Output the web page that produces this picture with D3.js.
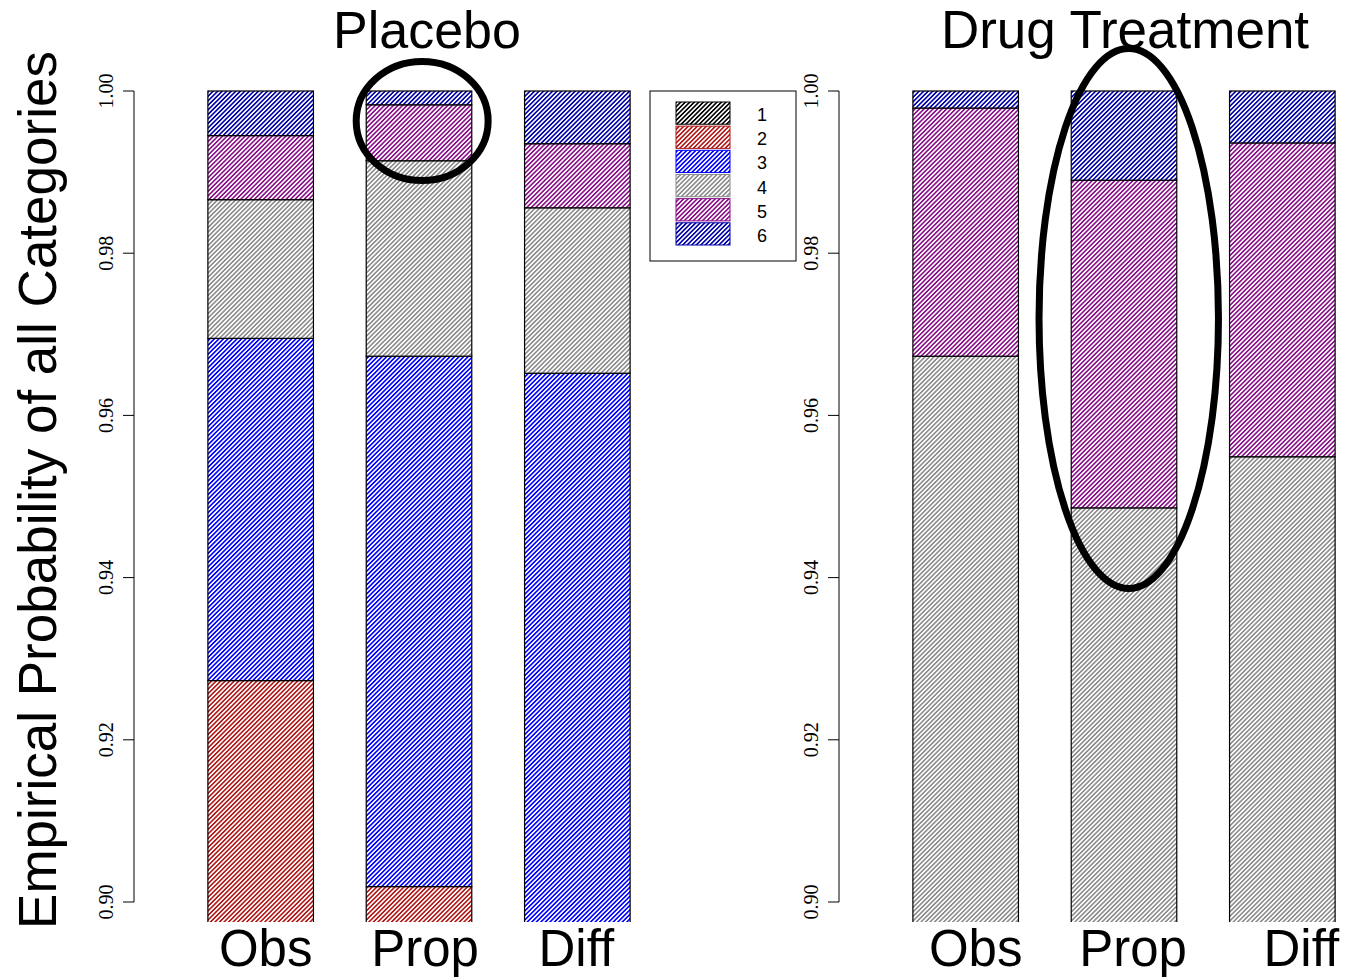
<!DOCTYPE html>
<html>
<head>
<meta charset="utf-8">
<script src="https://cdn.jsdelivr.net/npm/d3@7"></script>
<style>
  body { margin: 0; background: #fff; }
  svg { display: block; }
</style>
</head>
<body>
<div id="viz"></div>
<script>
// categories and bar groups
const categories = ['1', '2', '3', '4', '5', '6']
const groups = ['Obs', 'Prop', 'Diff']
const panelTitles = ['Placebo', 'Drug Treatment']
const yTicks = [0.90, 0.92, 0.94, 0.96, 0.98, 1.00]

// probability of each category (1..6), per bar
const placeboObs  = [0.700, 0.2273, 0.0422, 0.0171, 0.0079, 0.0055]
const placeboProp = [0.800, 0.1019, 0.0654, 0.0241, 0.0069, 0.0017]
const placeboDiff = [0.650, 0.2000, 0.1152, 0.0204, 0.0079, 0.0065]
const drugObs     = [0.400, 0.2500, 0.2000, 0.1173, 0.0306, 0.0021]
const drugProp    = [0.400, 0.2500, 0.2000, 0.0986, 0.0404, 0.0110]
const drugDiff    = [0.400, 0.2500, 0.2000, 0.1049, 0.0387, 0.0064]

// highlighted regions (centre value, half-height in prob units, half-width in bar widths)
const highlights = [
  {panel: 0, bar: 'Prop', y: 0.9963, ry: 0.00734, rx: 0.625, dx: 0.03},
  {panel: 1, bar: 'Prop', y: 0.97195, ry: 0.0333, rx: 0.85, dx: 0.045}
]

const colors = ['#000000', '#b01818', '#0000ff', '#8c8c8c', '#8a108a', '#0000a8']

const width = 1347, height = 977

const svg = d3.select('#viz')
  .append('svg')
  .attr('width', width)
  .attr('height', height)
  .style('font-family', '"Liberation Sans", Arial, sans-serif')

// hatch patterns
const defs = svg.append('defs')
colors.forEach((c, i) => {
  let p = defs.append('pattern')
    .attr('id', 'hatch' + i)
    .attr('patternUnits', 'userSpaceOnUse')
    .attr('width', 3.2)
    .attr('height', 3.2)
    .attr('patternTransform', 'rotate(45)')
  p.append('rect').attr('width', 3.2).attr('height', 3.2).attr('fill', '#fff')
  p.append('rect').attr('width', 1.6).attr('height', 3.2).attr('fill', c)
})

// layout of the two panels
const panels = [
  {left: 134, right: 704, data: [placeboObs, placeboProp, placeboDiff],
   labelNudge: [5, 6, -1], titleNudge: 8},
  {left: 839, right: 1409, data: [drugObs, drugProp, drugDiff],
   labelNudge: [10, 9, 19], titleNudge: 1}
]
const plotBottom = 922

let yScale = d3.scaleLinear()
  .domain([0.9, 1.0])
  .range([902, 91])

defs.append('clipPath').attr('id', 'plotClip')
  .append('rect')
  .attr('x', 0).attr('y', 40)
  .attr('width', width).attr('height', plotBottom - 40)

const stack = d3.stack().keys(d3.range(categories.length))

panels.forEach((panel, pi) => {
  let xScale = d3.scaleBand()
    .domain(groups)
    .range([panel.left, panel.right])
    .paddingInner(1 / 3)
    .paddingOuter(0.7 / 1.5)

  let g = svg.append('g')

  let rows = panel.data.map(v => {
    let r = {}
    v.forEach((p, k) => { r[k] = p })
    return r
  })
  let series = stack(rows)

  let barG = g.append('g').attr('clip-path', 'url(#plotClip)')
  series.forEach((s, k) => {
    barG.selectAll(null)
      .data(s)
      .enter()
      .append('rect')
      .attr('x', (d, i) => xScale(groups[i]))
      .attr('width', xScale.bandwidth())
      .attr('y', d => yScale(d[1]))
      .attr('height', d => yScale(d[0]) - yScale(d[1]))
      .attr('fill', 'url(#hatch' + k + ')')
      .attr('stroke', '#000')
      .attr('stroke-width', 1.2)
  })

  // y axis
  let axis = g.append('g')
    .attr('transform', `translate(${panel.left},0)`)
  axis.append('line')
    .attr('y1', yScale(0.9)).attr('y2', yScale(1.0))
    .attr('stroke', '#000')
  axis.selectAll('.tick')
    .data(yTicks)
    .enter()
    .append('line')
    .attr('x1', -11).attr('x2', 0)
    .attr('y1', d => yScale(d)).attr('y2', d => yScale(d))
    .attr('stroke', '#000')
  axis.selectAll('.tlabel')
    .data(yTicks)
    .enter()
    .append('text')
    .attr('transform', d => `translate(-21,${yScale(d)}) rotate(-90)`)
    .attr('text-anchor', 'middle')
    .style('font-family', '"Liberation Serif", "DejaVu Serif", serif')
    .style('font-size', '20px')
    .text(d => d.toFixed(2))

  // bar labels
  g.selectAll('.glabel')
    .data(groups)
    .enter()
    .append('text')
    .attr('x', (d, i) => xScale(d) + xScale.bandwidth() / 2 + panel.labelNudge[i])
    .attr('y', 966)
    .attr('text-anchor', 'middle')
    .style('font-size', '51px')
    .text(d => d)

  // title
  g.append('text')
    .attr('x', (panel.left + panel.right) / 2 + panel.titleNudge)
    .attr('y', 48)
    .attr('text-anchor', 'middle')
    .style('font-size', pi === 0 ? '52px' : '53px')
    .text(panelTitles[pi])

  // highlight ellipses
  highlights.filter(h => h.panel === pi).forEach(h => {
    let bw = xScale.bandwidth()
    g.append('ellipse')
      .attr('cx', xScale(h.bar) + bw / 2 + h.dx * bw)
      .attr('cy', yScale(h.y))
      .attr('rx', h.rx * bw)
      .attr('ry', yScale(h.y - h.ry) - yScale(h.y))
      .attr('fill', 'none')
      .attr('stroke', '#000')
      .attr('stroke-width', 7)
  })
})

// legend
let legend = svg.append('g').attr('transform', 'translate(650,91)')
legend.append('rect')
  .attr('width', 146).attr('height', 170)
  .attr('fill', '#fff').attr('stroke', '#000')
let legendRow = d3.scaleBand()
  .domain(categories)
  .range([11, 154])
  .paddingInner(0.08)
legend.selectAll('.sw')
  .data(categories)
  .enter()
  .append('rect')
  .attr('x', 26)
  .attr('y', d => legendRow(d))
  .attr('width', 54)
  .attr('height', legendRow.bandwidth())
  .attr('fill', (d, i) => 'url(#hatch' + i + ')')
  .attr('stroke', (d, i) => colors[i])
legend.selectAll('.lt')
  .data(categories)
  .enter()
  .append('text')
  .attr('x', 112)
  .attr('y', d => legendRow(d) + legendRow.bandwidth() / 2 + 8)
  .attr('text-anchor', 'middle')
  .style('font-size', '18px')
  .text(d => d)

// y title
svg.append('text')
  .attr('transform', 'translate(56,490) rotate(-90)')
  .attr('text-anchor', 'middle')
  .style('font-size', '53px')
  .text('Empirical Probability of all Categories')
</script>
</body>
</html>
